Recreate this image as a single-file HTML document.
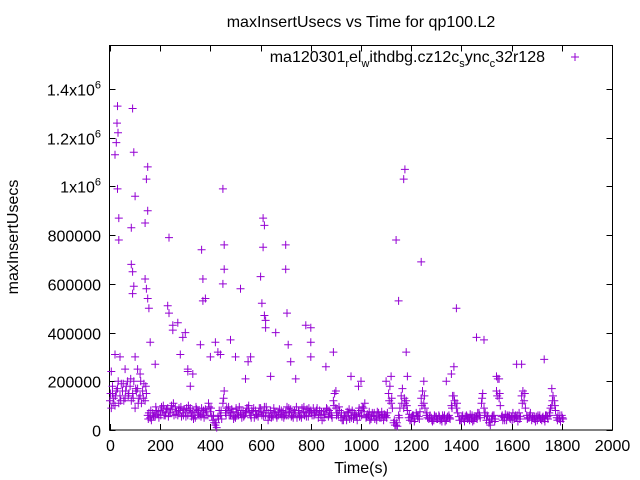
<!DOCTYPE html>
<html><head><meta charset="utf-8"><style>
body{margin:0;background:#fff;}
svg{display:block;font-family:"Liberation Sans",sans-serif;}
</style></head><body>
<svg id="chart" width="640" height="480">
<rect width="640" height="480" fill="#fff"/>
<text x="361" y="27" font-size="16" text-anchor="middle">maxInsertUsecs vs Time for qp100.L2</text>
<text transform="translate(18,237) rotate(-90)" font-size="16" text-anchor="middle">maxInsertUsecs</text>
<text x="361" y="473" font-size="16" text-anchor="middle">Time(s)</text>
<g id="axes"></g>
<g id="marks"></g>
<g>
<text x="545" y="62" font-size="16" text-anchor="end">ma120301<tspan font-size="11" dy="5">r</tspan><tspan dy="-5">el</tspan><tspan font-size="11" dy="5">w</tspan><tspan dy="-5">ithdbg.cz12c</tspan><tspan font-size="11" dy="5">s</tspan><tspan dy="-5">ync</tspan><tspan font-size="11" dy="5">c</tspan><tspan dy="-5">32r128</tspan></text>
<path d="M571,57h8M575,53v8" stroke="#9400d3" stroke-width="1"/>
</g>
</svg>
<script>
const xTicks=[0,200,400,600,800,1000,1200,1400,1600,1800,2000];
const yTicks=[0,200000,400000,600000,800000,1000000,1200000,1400000];
const yTickLabels=["0","200000","400000","600000","800000","1x10^6","1.2x10^6","1.4x10^6"];
const base1=[120,150,100,170,140,160,130,200,180,150,90,170,140,160,120,
60,50,70,55,65,80,75,60,90,70,85,95,60,80,70,
70,60,90,75,50,80,65,70,85,60,75,40,20,55,60,
110,70,80,60,75,50,70,65,80,70,90,60,75,80,55,
90,70,60,40,80,55,70,60,65,75,70,60,85,50,70,
80,60,75,70,55,80,90,70,50,60,75,65,55,70,120,
90,60,50,40,55,70,60,45,65,70,80,90,50,60,45,
60,55,70,50,40,60,150,110,30,20,60,140,90,120,50,
40,60,70,55,130,110,60,45,50,40,55,60,45,50,40,
60,100,140,90,55,40,45,60,50,45,40,55,70,110,90,
40,30,45,60,160,130,55,50,40,60,55,45,50,70,140,
120,60,50,40,45,55,50,40,45,60,70,100,120,50,45,60];
const base2=[90,130,160,110,190,120,180,150,120,200,160,130,110,190,150,
70,40,60,80,50,95,60,85,70,100,60,75,90,55,85,
90,80,55,60,85,60,90,50,75,95,55,30,10,80,45,
160,90,60,85,55,70,95,50,60,90,70,80,50,65,90,
60,95,80,55,60,75,50,85,55,60,95,75,60,80,50,
55,90,60,85,75,60,70,90,80,40,65,85,70,50,150,
70,80,40,60,75,45,80,60,40,55,95,110,65,40,70,
45,75,50,60,55,70,180,90,20,15,90,170,110,80,40,
60,45,55,75,160,90,50,60,35,55,45,40,60,35,55,
45,140,110,70,40,60,55,45,65,35,55,70,50,150,70,
55,20,60,45,210,100,40,65,55,45,70,60,35,55,160,
90,50,70,55,35,60,45,55,60,45,90,140,80,60,35,45];
const base3=[150,110,140,200,120,190,160,140,210,130,170,110,200,130,180,
45,80,55,95,75,60,100,70,55,85,110,65,80,95,60,
55,100,70,45,95,70,55,80,60,110,90,60,30,45,80,
130,60,95,70,45,90,60,80,55,75,100,50,90,60,75,
75,55,95,70,50,90,60,75,80,50,60,90,55,70,95,
70,50,95,55,90,70,60,80,65,75,50,90,80,60,100,
60,95,70,55,40,85,50,70,55,90,60,75,55,75,55,
70,40,60,75,65,50,120,130,40,30,50,110,130,100,65,
55,35,60,45,100,140,70,50,40,60,45,55,35,60,50,
50,90,120,110,40,55,35,55,40,60,50,45,60,130,60,
60,40,55,35,140,150,60,40,60,50,40,55,60,45,110,
150,45,60,50,55,40,60,50,35,55,60,120,100,40,60,50];
const outT=[5,10,20,25,28,30,32,30,35,35,20,40,90,95,100,85,85,90,95,90,100,110,140,145,150,150,140,145,150,155,160,230,235,235,250,250,270,280,290,300,310,310,320,360,365,370,370,380,400,420,430,440,450,455,455,450,480,520,550,560,600,610,615,610,605,615,620,620,660,700,700,705,710,720,780,800,800,800,860,890,900,960,990,1000,1140,1150,1170,1175,1180,1185,1240,1250,1340,1370,1380,1460,1490,1540,1550,1620,1640,1730,1760,60,120,180,330,500,540,640,740,1100,1120,1360,1530];
const outV=[240,180,1130,1180,1260,1330,1220,990,870,780,310,300,1320,1140,960,830,680,650,590,560,300,250,850,1030,1080,900,620,580,540,500,360,510,480,790,430,410,440,310,380,400,250,240,180,350,740,620,530,540,300,360,320,310,990,760,660,600,370,580,280,300,630,870,840,750,520,470,450,420,400,760,660,480,350,280,430,420,360,300,260,320,160,220,180,200,780,530,1030,1070,320,220,690,200,200,260,500,380,370,220,210,270,270,290,170,250,230,270,230,300,210,220,210,200,220,230];
const X0=110,X1=612,Y0=430,Y1=89;
const xs=t=>X0+(X1-X0)*t/2000;
const ys=v=>Y0-(Y0-Y1)*v/1400000;
const NS="http://www.w3.org/2000/svg";
const ax=document.getElementById('axes');
function mk(tag,attrs,parent){const e=document.createElementNS(NS,tag);for(const k in attrs)e.setAttribute(k,attrs[k]);parent.appendChild(e);return e;}
const frame=mk('rect',{x:109.5,y:45.5,width:503,height:384.5,fill:'none',stroke:'#000','stroke-width':1},ax);


xTicks.forEach(t=>{const x=Math.round(xs(t))+0.5;
 mk('path',{d:`M${x},430v-6M${x},45.5v6`,stroke:'#000'},ax);
 const tx=mk('text',{x:x,y:451,'font-size':16,'text-anchor':'middle'},ax);tx.textContent=t;
 
 });
yTicks.forEach((v,i)=>{const y=Math.round(ys(v))+0.5;
 mk('path',{d:`M109.5,${y}h6M612.5,${y}h-6`,stroke:'#000'},ax);
 const lab=yTickLabels[i];
 const tx=mk('text',{x:101,y:y+6,'font-size':16,'text-anchor':'end'},ax);
 if(lab.includes('^')){const p=lab.split('^');tx.textContent=p[0];const s=mk('tspan',{'font-size':11,dy:-7},tx);s.textContent=p[1];}
 else tx.textContent=lab;
 
 });
const mg=document.getElementById('marks');
let d='';
function plus(t,v){const x=xs(t),y=ys(v);d+=`M${(x-4).toFixed(1)},${y.toFixed(1)}h8M${x.toFixed(1)},${(y-4).toFixed(1)}v8`;}
base1.forEach((v,i)=>plus(i*10,v*1000));
base2.forEach((v,i)=>plus(i*10+5,v*1000));
base3.forEach((v,i)=>plus(i*10+2.5,v*1000));
outT.forEach((t,i)=>plus(t,outV[i]*1000));
const p=mk('path',{d:d,stroke:'#9400d3','stroke-width':1,fill:'none'},mg);


</script>
</body></html>
